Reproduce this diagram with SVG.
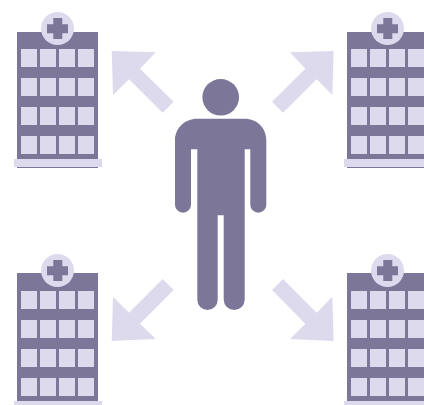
<svg xmlns="http://www.w3.org/2000/svg" xmlns:xlink="http://www.w3.org/1999/xlink" width="424" height="405" viewBox="0 0 424 405">
<style>
.d{fill:#7c7698}
.l{fill:#dedaee}
</style>
<defs>
<g id="hospital">
<rect class="d" x="17" y="32" width="81" height="136"/>
<rect class="l" x="14" y="159" width="88" height="8"/>
<circle class="l" cx="57.500" cy="28.500" r="16.500"/>
<path class="d" d="M53.300 18h9v6.300h5.700v9h-5.700v5.700h-9v-5.700h-6.300v-9h6.300z"/>
<g class="l">
<rect x="21" y="49" width="16" height="18"/><rect x="40" y="49" width="16" height="18"/><rect x="59" y="49" width="16" height="18"/><rect x="78" y="49" width="16" height="18"/>
<rect x="21" y="78" width="16" height="18"/><rect x="40" y="78" width="16" height="18"/><rect x="59" y="78" width="16" height="18"/><rect x="78" y="78" width="16" height="18"/>
<rect x="21" y="107" width="16" height="18"/><rect x="40" y="107" width="16" height="18"/><rect x="59" y="107" width="16" height="18"/><rect x="78" y="107" width="16" height="18"/>
<rect x="21" y="136" width="16" height="18"/><rect x="40" y="136" width="16" height="18"/><rect x="59" y="136" width="16" height="18"/><rect x="78" y="136" width="16" height="18"/>
</g>
</g>
</defs>
<g id="connectors" class="l">
<polygon points="111.700,51 155.700,52.300 140,68.700 173.700,101.700 162.700,112.700 129,79.300 113,95"/>
<polygon points="333.700,51 290,52.300 305.300,68.700 272,101.700 283,112.700 316.700,79.300 332.300,95"/>
<polygon points="111.700,341 155.700,339 140,323.700 173.700,290 162.700,279 129,312.700 113,296.700"/>
<polygon points="333.700,341 290,339 305.300,323.700 272,290 283,279 316.700,312.700 332.300,296.700"/>
</g>
<g id="hospital-top-left"><use xlink:href="#hospital" href="#hospital"/></g>
<g id="hospital-top-right"><use xlink:href="#hospital" href="#hospital" x="330"/></g>
<g id="hospital-bottom-left"><rect class="d" x="17" y="273" width="81" height="2"/><use xlink:href="#hospital" href="#hospital" y="242"/></g>
<g id="hospital-bottom-right"><rect class="d" x="347" y="273" width="81" height="2"/><use xlink:href="#hospital" href="#hospital" x="330" y="242"/></g>
<g id="person" class="d">
<circle cx="220.700" cy="97.300" r="18.300"/>
<path d="M197 118.700H244.700C257 118.700 266.300 128 266.300 140V204.700A8 8 0 0 1 250.300 204.700V149.300H244.700V299.500A10.500 10.500 0 0 1 223.700 299.500V215.300H217.700V299.750A10.200 10.200 0 0 1 197.300 299.750V149.300H191V204.700A8 8 0 0 1 175 204.700V140C175 128 185 118.700 197 118.700Z"/>
</g>
</svg>
